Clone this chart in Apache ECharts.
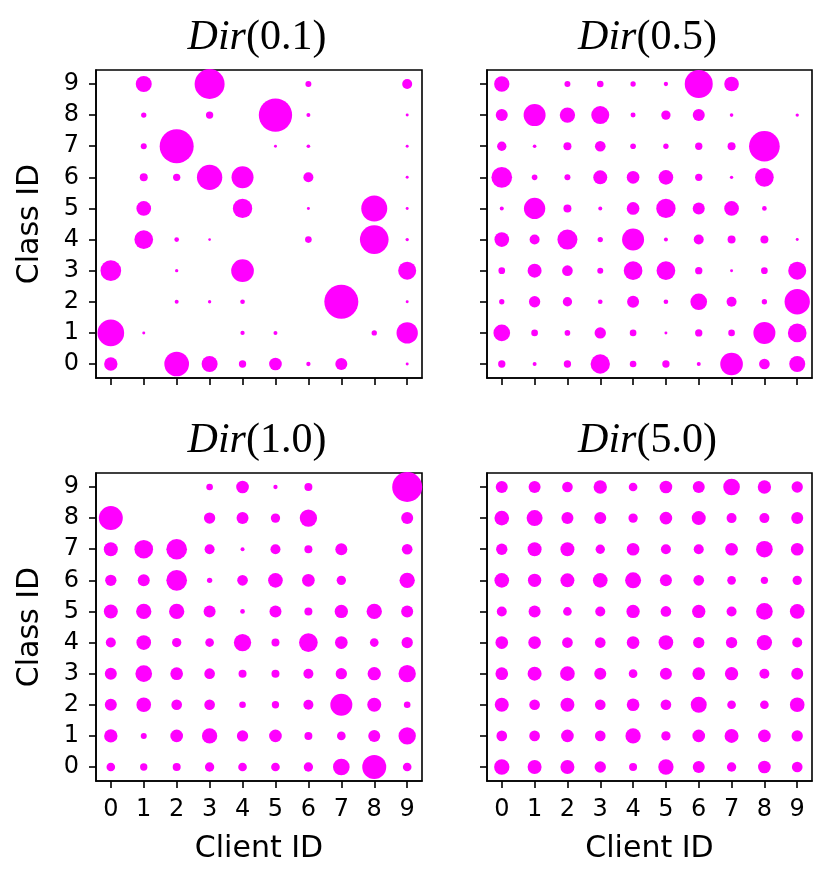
<!DOCTYPE html>
<html>
<head>
<meta charset="utf-8">
<script src="https://cdn.jsdelivr.net/npm/echarts@6/dist/echarts.min.js"></script>
<style>
  html, body { margin: 0; padding: 0; background: #fff; }
  #chart { width: 831px; height: 886px; }
</style>
</head>
<body>
<div id="chart"></div>
<script>
// client / class ids
var clientIds = [0, 1, 2, 3, 4, 5, 6, 7, 8, 9];
var classIds = [0, 1, 2, 3, 4, 5, 6, 7, 8, 9];
var tickValues = [0, 1, 2, 3, 4, 5, 6, 7, 8, 9];

// samples per (class row, client column)
var dir01 = [
    [800, 0, 2738, 1152, 242, 722, 84, 648, 0, 40],
    [3200, 40, 0, 0, 84, 72, 0, 0, 128, 2048],
    [0, 0, 72, 50, 98, 0, 0, 5202, 0, 40],
    [1922, 0, 50, 0, 2312, 0, 0, 0, 0, 1458],
    [0, 1568, 98, 32, 0, 0, 200, 0, 3698, 50],
    [0, 968, 0, 0, 1682, 0, 40, 0, 3042, 40],
    [0, 288, 242, 2888, 2178, 0, 450, 0, 0, 40],
    [0, 162, 5202, 0, 0, 40, 60, 0, 0, 40],
    [0, 128, 0, 242, 0, 5000, 72, 0, 0, 40],
    [0, 1152, 0, 4050, 0, 0, 162, 0, 0, 450]
];
var dir05 = [
    [242, 72, 242, 1682, 200, 242, 72, 2312, 512, 1152],
    [1250, 200, 144, 578, 200, 40, 242, 200, 2178, 1568],
    [128, 578, 392, 98, 648, 98, 1250, 450, 128, 2888],
    [200, 882, 512, 162, 1568, 1568, 242, 40, 200, 1458],
    [968, 450, 1800, 128, 2178, 72, 450, 288, 288, 40],
    [72, 2048, 288, 72, 722, 1682, 648, 968, 98, 0],
    [1922, 144, 162, 882, 722, 968, 242, 50, 1568, 0],
    [392, 60, 288, 512, 144, 128, 242, 288, 4232, 0],
    [648, 2178, 1058, 1458, 112, 392, 648, 60, 0, 50],
    [1058, 0, 162, 200, 128, 84, 3528, 968, 0, 0]
];
var dir10 = [
    [338, 242, 288, 392, 338, 338, 392, 1250, 2592, 338],
    [800, 162, 722, 1058, 578, 722, 288, 338, 648, 1352],
    [648, 968, 512, 512, 200, 242, 450, 2178, 882, 200],
    [648, 1250, 722, 512, 288, 288, 450, 578, 800, 1352],
    [450, 968, 392, 338, 1352, 288, 1568, 722, 338, 578],
    [882, 1058, 1058, 648, 98, 648, 288, 800, 1058, 648],
    [578, 648, 1922, 128, 512, 968, 722, 392, 0, 1058],
    [882, 1568, 1922, 450, 72, 450, 288, 648, 0, 512],
    [2592, 0, 0, 578, 648, 392, 1352, 0, 0, 648],
    [0, 0, 0, 200, 722, 84, 288, 0, 0, 4050]
];
var dir50 = [
    [1058, 882, 882, 578, 288, 1058, 648, 392, 722, 512],
    [512, 512, 722, 512, 1058, 392, 722, 882, 722, 578],
    [882, 512, 882, 512, 722, 512, 1152, 338, 338, 968],
    [722, 882, 968, 648, 338, 648, 722, 800, 450, 648],
    [722, 722, 512, 512, 722, 968, 578, 578, 1058, 450],
    [450, 648, 338, 450, 800, 512, 800, 450, 1250, 968],
    [968, 800, 882, 968, 1152, 648, 512, 338, 242, 392],
    [578, 882, 882, 392, 722, 450, 450, 722, 1250, 722],
    [968, 1152, 648, 648, 392, 722, 882, 450, 450, 648],
    [648, 648, 512, 800, 338, 722, 648, 1250, 800, 578]
];
var panelTitles = ['(0.1)', '(0.5)', '(1.0)', '(5.0)'];

var chart = echarts.init(document.getElementById('chart'));

var grids = [
    {left: 96, top: 70, width: 326, height: 308},
    {left: 487, top: 70, width: 325, height: 308},
    {left: 96, top: 473, width: 326, height: 308},
    {left: 487, top: 473, width: 325, height: 308}
];
var matrices = [dir01, dir05, dir10, dir50];

function toPoints(m) {
    var pts = [];
    for (var r = 0; r < classIds.length; r++) {
        for (var c = 0; c < clientIds.length; c++) {
            if (m[r][c] > 0) pts.push([clientIds[c], classIds[r], m[r][c]]);
        }
    }
    return pts;
}

function makeAxis(i, showLabel, showName, isX) {
    return {
        type: 'value',
        gridIndex: i,
        min: -0.45,
        max: 9.45,
        name: showName ? (isX ? 'Client ID' : 'Class ID') : '',
        nameLocation: 'middle',
        nameGap: isX ? 53 : 51,
        nameTextStyle: {fontFamily: 'DejaVu Sans', fontSize: 30, color: '#000'},
        axisLine: {show: true, onZero: false, lineStyle: {color: '#000', width: 1.6}},
        axisTick: {show: true, length: 7, lineStyle: {color: '#000', width: 1.6}, customValues: tickValues},
        axisLabel: {
            show: showLabel,
            margin: isX ? 17 : 17,
            color: '#000',
            customValues: tickValues,
            formatter: '{d|{value}}',
            rich: {d: {fontFamily: 'DejaVu Sans', fontSize: 24, color: '#000'}}
        },
        splitLine: {show: false}
    };
}

var xAxes = [], yAxes = [], series = [], graphics = [];
for (var i = 0; i < 4; i++) {
    var bottomRow = i >= 2;
    var leftCol = i % 2 === 0;
    xAxes.push(makeAxis(i, bottomRow, bottomRow, true));
    yAxes.push(makeAxis(i, leftCol, leftCol, false));
    series.push({
        type: 'scatter',
        xAxisIndex: i,
        yAxisIndex: i,
        data: toPoints(matrices[i]),
        symbolSize: function (v) { return Math.sqrt(2 * v[2]) / 3; },
        itemStyle: {color: '#ff00ff', opacity: 1},
        silent: true
    });
    graphics.push({
        type: 'text',
        x: grids[i].left + grids[i].width / 2 - 2,
        y: grids[i].top - 32,
        style: {
            text: '{it|Dir}{rm|' + panelTitles[i] + '}',
            align: 'center',
            verticalAlign: 'middle',
            rich: {
                it: {fontFamily: 'Liberation Serif', fontStyle: 'italic', fontSize: 42, fill: '#000'},
                rm: {fontFamily: 'Liberation Serif', fontSize: 42, fill: '#000'}
            }
        }
    });
}

chart.setOption({
    animation: false,
    backgroundColor: '#fff',
    grid: grids.map(function (g) {
        return {left: g.left, top: g.top, width: g.width, height: g.height, show: true,
            borderColor: '#000', borderWidth: 1.6, backgroundColor: 'transparent'};
    }),
    xAxis: xAxes,
    yAxis: yAxes,
    series: series,
    graphic: graphics
});
</script>
</body>
</html>
